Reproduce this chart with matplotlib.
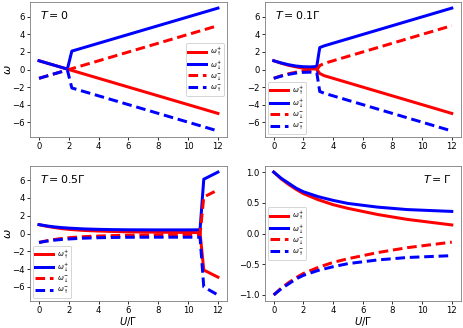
import numpy as np
import matplotlib
matplotlib.use("Agg")
import matplotlib.pyplot as plt

# U/Gamma grids and omega branches
# T = 0
U_t0 = [0.0, 1.0, 1.9, 2.2, 12.0]
up_p_t0 = [1.0, 0.5, 0.05, -0.1, -5.0]     # omega_up^+
dn_p_t0 = [1.0, 0.5, 0.05, 2.1, 7.0]       # omega_down^+
dn_m_t0 = [-1.0, -0.5, -0.05, 0.1, 5.0]    # omega_down^-
up_m_t0 = [-1.0, -0.5, -0.05, -2.1, -7.0]  # omega_up^-

# T = 0.1 Gamma
U_t01 = [0.0, 0.5, 1.0, 1.5, 2.0, 2.5, 2.9, 3.1, 3.4, 12.0]
up_p_t01 = [1.0, 0.72, 0.48, 0.30, 0.15, 0.08, 0.05, -0.45, -0.7, -5.0]
dn_p_t01 = [1.0, 0.75, 0.55, 0.40, 0.32, 0.30, 0.35, 2.5, 2.7, 7.0]
dn_m_t01 = [-1.0, -0.72, -0.48, -0.30, -0.15, -0.08, -0.05, 0.45, 0.7, 5.0]
up_m_t01 = [-1.0, -0.75, -0.55, -0.40, -0.32, -0.30, -0.35, -2.5, -2.7, -7.0]

# T = 0.5 Gamma
U_t05 = [0.0, 0.5, 1.0, 1.5, 2.0, 3.0, 4.0, 5.0, 6.0, 8.0, 10.0, 10.8, 11.05, 12.0]
up_p_t05 = [1.0, 0.82, 0.68, 0.56, 0.47, 0.35, 0.28, 0.23, 0.19, 0.15, 0.12, 0.1, -4.1, -4.9]
dn_p_t05 = [1.0, 0.86, 0.75, 0.67, 0.61, 0.52, 0.47, 0.44, 0.42, 0.41, 0.41, 0.42, 6.1, 6.9]
dn_m_t05 = [-1.0, -0.82, -0.68, -0.56, -0.47, -0.35, -0.28, -0.23, -0.19, -0.15, -0.12, -0.1, 4.1, 4.9]
up_m_t05 = [-1.0, -0.86, -0.75, -0.67, -0.61, -0.52, -0.47, -0.44, -0.42, -0.41, -0.41, -0.42, -6.0, -6.9]

# T = Gamma
U_t1 = [0.0, 0.5, 1.0, 1.5, 2.0, 3.0, 4.0, 5.0, 6.0, 7.0, 8.0, 9.0, 10.0, 11.0, 12.0]
up_p_t1 = [1.0, 0.89, 0.80, 0.72, 0.65, 0.55, 0.47, 0.41, 0.36, 0.31, 0.27, 0.23, 0.20, 0.17, 0.14]
dn_p_t1 = [1.0, 0.90, 0.82, 0.74, 0.68, 0.60, 0.54, 0.49, 0.46, 0.43, 0.41, 0.39, 0.38, 0.37, 0.36]
dn_m_t1 = [-1.0, -0.89, -0.80, -0.72, -0.65, -0.55, -0.47, -0.41, -0.36, -0.31, -0.27, -0.23, -0.20, -0.17, -0.14]
up_m_t1 = [-1.0, -0.90, -0.82, -0.74, -0.68, -0.60, -0.54, -0.49, -0.46, -0.43, -0.41, -0.39, -0.38, -0.37, -0.36]

panels = [
    (U_t0, up_p_t0, dn_p_t0, dn_m_t0, up_m_t0, r"$T=0$", "center right"),
    (U_t01, up_p_t01, dn_p_t01, dn_m_t01, up_m_t01, r"$T=0.1\Gamma$", "lower left"),
    (U_t05, up_p_t05, dn_p_t05, dn_m_t05, up_m_t05, r"$T=0.5\Gamma$", "lower left"),
    (U_t1, up_p_t1, dn_p_t1, dn_m_t1, up_m_t1, r"$T=\Gamma$", "center left"),
]

labels = [r"$\omega_{\uparrow}^{+}$", r"$\omega_{\downarrow}^{+}$",
          r"$\omega_{\downarrow}^{-}$", r"$\omega_{\uparrow}^{-}$"]

# drawn at 72 dpi so the font sizes match the downscaled look
fig = plt.figure(figsize=(463 / 72, 328 / 72), dpi=72)
boxes = [[0.065, 0.582, 0.425, 0.412],
         [0.572, 0.582, 0.423, 0.412],
         [0.065, 0.082, 0.425, 0.412],
         [0.572, 0.082, 0.423, 0.412]]

for i, (U, a, b, c, d, title, loc) in enumerate(panels):
    ax = fig.add_axes(boxes[i])
    ax.plot(U, a, color="red", lw=3, label=labels[0])
    ax.plot(U, b, color="blue", lw=3, label=labels[1])
    ax.plot(U, c, color="red", lw=3, ls="--", dashes=(3.2, 1.6), label=labels[2])
    ax.plot(U, d, color="blue", lw=3, ls="--", dashes=(3.2, 1.6), label=labels[3])
    ax.set_xticks([0, 2, 4, 6, 8, 10, 12])
    ax.tick_params(labelsize=8.5, length=3, pad=2)
    for s in ax.spines.values():
        s.set_color("#777777")
    if i == 3:
        ax.set_yticks([-1.0, -0.5, 0.0, 0.5, 1.0])
        ax.text(0.95, 0.9, title, transform=ax.transAxes, ha="right", va="center", fontsize=11)
    else:
        ax.set_yticks([-6, -4, -2, 0, 2, 4, 6])
        ax.text(0.05, 0.9, title, transform=ax.transAxes, ha="left", va="center", fontsize=11)
    if i in (0, 2):
        ax.set_ylabel(r"$\omega$", fontsize=11)
        ax.yaxis.set_label_coords(-0.085, 0.5)
    if i in (2, 3):
        ax.set_xlabel(r"$U/\Gamma$", fontsize=10)
        ax.xaxis.set_label_coords(0.5, -0.105)
    ax.legend(loc=loc, fontsize=7, handlelength=2.6, labelspacing=0.1,
              borderpad=0.3, handletextpad=0.6, borderaxespad=0.4)

fig.savefig("out.png", dpi=72)
